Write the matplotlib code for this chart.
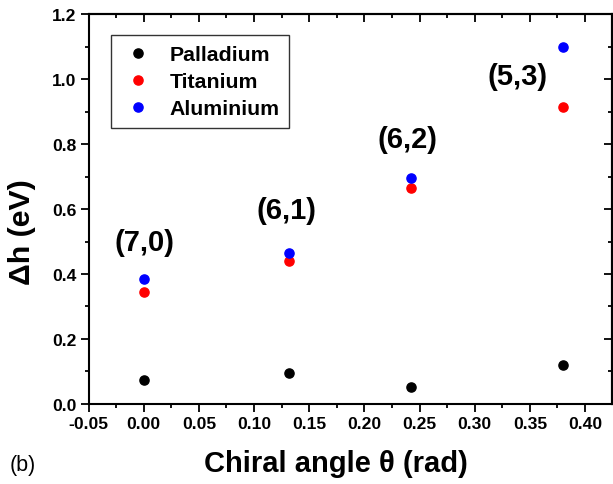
import matplotlib
matplotlib.use("Agg")
import matplotlib.pyplot as plt
from matplotlib.ticker import MultipleLocator

plt.rcParams["font.family"] = ["Liberation Sans", "DejaVu Sans"]

# chiral angles (rad) for (7,0), (6,1), (6,2), (5,3)
theta = [0.0, 0.132, 0.242, 0.380]
chirality = ["(7,0)", "(6,1)", "(6,2)", "(5,3)"]
palladium = [0.074, 0.095, 0.053, 0.120]
titanium = [0.346, 0.440, 0.664, 0.913]
aluminium = [0.384, 0.464, 0.695, 1.098]

# label anchor positions (data coords)
label_x = [0.0005, 0.1295, 0.2394, 0.3385]
label_y = [0.498, 0.597, 0.815, 1.009]

fig = plt.figure(figsize=(6.13, 4.85), dpi=100)
ax = fig.add_axes([0.1444, 0.165, 0.8532, 0.804])

for vals, color, name in (
    (palladium, "black", "Palladium"),
    (titanium, "#ff0000", "Titanium"),
    (aluminium, "#0000ff", "Aluminium"),
):
    ax.plot(theta, vals, "o", color=color, ms=6.6, mec=color, label=name, lw=0)

for lab, x, y in zip(chirality, label_x, label_y):
    ax.text(x, y, lab, fontsize=21, fontweight="bold", ha="center", va="center")

ax.set_xlim(-0.05, 0.424)
ax.set_ylim(0.0, 1.2)
xt = [-0.05 + 0.05 * i for i in range(10)]
ax.set_xticks(xt)
ax.set_xticklabels([f"{v:.2f}" if abs(v) > 1e-9 else "0.00" for v in xt])
ax.xaxis.set_minor_locator(MultipleLocator(0.025))
yt = [0.2 * i for i in range(7)]
ax.set_yticks(yt)
ax.set_yticklabels([f"{v:.1f}" for v in yt])
ax.yaxis.set_minor_locator(MultipleLocator(0.1))

for side in ax.spines.values():
    side.set_linewidth(1.5)
ax.tick_params(which="both", width=1.3, labelsize=12.6, direction="out")
ax.tick_params(which="major", length=5.5, pad=3)
ax.tick_params(which="minor", length=3)
for lbl in ax.get_xticklabels() + ax.get_yticklabels():
    lbl.set_fontweight("bold")

# top / right ticks point inward, no labels
top = ax.secondary_xaxis("top")
top.set_xticks(xt)
top.xaxis.set_minor_locator(MultipleLocator(0.025))
top.tick_params(which="both", direction="in", labeltop=False, width=1.3)
top.tick_params(which="major", length=6)
top.tick_params(which="minor", length=3)
top.spines["top"].set_linewidth(1.5)
right = ax.secondary_yaxis("right")
right.set_yticks(yt)
right.yaxis.set_minor_locator(MultipleLocator(0.1))
right.tick_params(which="both", direction="in", labelright=False, width=1.3)
right.tick_params(which="major", length=6)
right.tick_params(which="minor", length=3)
right.spines["right"].set_linewidth(1.5)

ax.set_xlabel("Chiral angle \u03b8 (rad)", fontsize=21, fontweight="bold")
ax.xaxis.set_label_coords(0.474, -0.115)
ax.set_ylabel("\u0394h (eV)", fontsize=21.8, fontweight="bold")
ax.yaxis.set_label_coords(-0.10, 0.444)

leg = ax.legend(loc="upper left", bbox_to_anchor=(0.043, 0.945),
                prop={"weight": "bold", "size": 15.3}, frameon=True, fancybox=False,
                edgecolor="black", handletextpad=0.7, borderpad=0.45, labelspacing=0.38,
                handlelength=1.6, borderaxespad=0)
leg.get_frame().set_linewidth(1.0)

fig.text(0.016, 0.028, "(b)", fontsize=15.5)

fig.savefig("out.png", dpi=100)
